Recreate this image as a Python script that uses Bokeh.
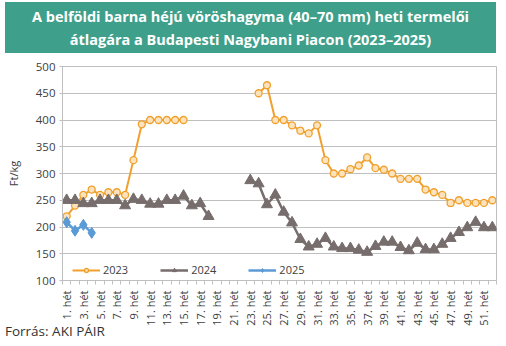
import math
import numpy as np
from bokeh.plotting import figure
from bokeh.models import Div, Legend, LegendItem, FixedTicker, Range1d
from bokeh.layouts import column
from bokeh.embed import file_html
from bokeh.resources import INLINE

TITLE_1 = "A belföldi barna héjú vöröshagyma (40–70 mm) heti termelői"
TITLE_2 = "átlagára a Budapesti Nagybani Piacon (2023–2025)"
SOURCE = "Forrás: AKI PÁIR"
Y_LABEL = "Ft/kg"

weeks = list(range(1, 53))
week_labels = {w: f"{w}. hét" for w in weeks if w % 2 == 1}

w2023 = weeks
v2023 = [220, 240, 260, 270, 260, 265, 265, 260, 325, 392, 400, 400, 400, 400, 400,
         None, None, None, None, None, None, None, None,
         450, 465, 400, 400, 390, 380, 375, 390, 325, 300, 300, 308, 315, 330, 310, 307,
         300, 290, 290, 290, 270, 265, 260, 245, 250, 245, 245, 245, 250]

w2024 = weeks
v2024 = [250, 250, 244, 244, 250, 250, 250, 240, 252, 250, 243, 243, 250, 250, 258, 240, 244, 220,
         None, None, None, None,
         287, 281, 242, 260, 228, 208, 177, 163, 168, 179, 163, 160, 160, 157, 153, 164,
         172, 172, 162, 156, 170, 158, 158, 168, 179, 190, 199, 209, 199, 199]

w2025 = [1, 2, 3, 4]
v2025 = [209, 193, 204, 189]

y_ticks = [100, 150, 200, 250, 300, 350, 400, 450, 500]


def arr(v):
    return np.array([np.nan if x is None else x for x in v], dtype=float)


FONT = "Open Sans"
TXT = "#404040"
GRID = "#bfbfbf"
C23 = "#f0a02c"
C24 = "#776d6d"
C25 = "#5b9bd5"

title_div = Div(
    text=(
        '<div style="width:491px;height:51px;background:#3e9f8b;color:#ffffff;'
        "font-family:'Open Sans';font-weight:bold;font-size:14.5px;line-height:23px;"
        'text-align:center;padding-top:3px;box-sizing:border-box;">'
        f"{TITLE_1}<br>{TITLE_2}</div>"
    ),
    width=491, height=51, margin=(2, 0, 0, 5),
)

p = figure(width=506, height=275, output_backend="svg", toolbar_location=None,
           min_border_left=62, min_border_right=10, min_border_top=13, min_border_bottom=45,
           x_range=Range1d(0.5, 52.5), y_range=Range1d(100, 500))
p.outline_line_color = GRID
p.background_fill_color = "white"
p.border_fill_color = "white"

p.xgrid.grid_line_color = None
p.ygrid.grid_line_color = GRID
p.ygrid.ticker = FixedTicker(ticks=y_ticks)

p.yaxis.ticker = FixedTicker(ticks=y_ticks)
p.yaxis.axis_label = Y_LABEL
p.yaxis.axis_label_text_font = FONT
p.yaxis.axis_label_text_font_style = "normal"
p.yaxis.axis_label_text_font_size = "11px"
p.yaxis.axis_label_text_color = TXT
p.yaxis.axis_label_standoff = 12
p.yaxis.major_label_text_font = FONT
p.yaxis.major_label_text_font_size = "11.5px"
p.yaxis.major_label_text_color = TXT
p.yaxis.major_label_standoff = 4
p.yaxis.major_tick_out = 3
p.yaxis.major_tick_in = 0
p.yaxis.minor_tick_out = 0
p.yaxis.minor_tick_in = 0
p.yaxis.axis_line_color = GRID
p.yaxis.major_tick_line_color = GRID

odd = [w for w in weeks if w % 2 == 1]
bounds = [w + 0.5 for w in range(0, 53)]
p.xaxis.ticker = FixedTicker(ticks=odd, minor_ticks=bounds)
p.xaxis.major_label_overrides = week_labels
p.xaxis.major_label_orientation = math.pi / 2
p.xaxis.major_label_text_font = FONT
p.xaxis.major_label_text_font_size = "11px"
p.xaxis.major_label_text_color = TXT
p.xaxis.major_label_standoff = 6
p.xaxis.major_tick_out = 0
p.xaxis.major_tick_in = 0
p.xaxis.minor_tick_out = 4
p.xaxis.minor_tick_in = 0
p.xaxis.minor_tick_line_color = GRID
p.xaxis.axis_line_color = GRID

l23 = p.line(w2023, arr(v2023), line_color=C23, line_width=2)
s23 = p.scatter(w2023, arr(v2023), marker="circle", size=7, fill_color="#fde3bd",
                line_color=C23, line_width=1.3)
l24 = p.line(w2024, arr(v2024), line_color=C24, line_width=2.5)
s24 = p.scatter(w2024, arr(v2024), marker="triangle", size=11, fill_color=C24,
                line_color=C24)
l25 = p.line(w2025, arr(v2025), line_color=C25, line_width=2.5)
s25 = p.scatter(w2025, arr(v2025), marker="diamond", size=11, fill_color=C25,
                line_color=C25)

legend = Legend(items=[LegendItem(label="2023", renderers=[l23, s23]),
                       LegendItem(label="2024", renderers=[l24, s24]),
                       LegendItem(label="2025", renderers=[l25, s25])],
                orientation="horizontal", location=(10, 3),
                glyph_width=28, glyph_height=10, label_height=14, label_standoff=3,
                spacing=32, padding=0, margin=0,
                label_text_font=FONT, label_text_font_size="11px", label_text_color=TXT,
                border_line_color=None, background_fill_alpha=0)
p.add_layout(legend, "center")

source_div = Div(
    text=(
        '<div style="position:relative;top:-5px;font-family:\'Open Sans\';'
        'font-size:13.5px;line-height:16px;color:#333333;white-space:nowrap;">'
        f"{SOURCE}</div>"
    ),
    width=200, height=18, margin=(0, 0, 0, 5),
)

layout = column(title_div, p, source_div, spacing=0)
open("out.html", "w").write(file_html(layout, INLINE))
